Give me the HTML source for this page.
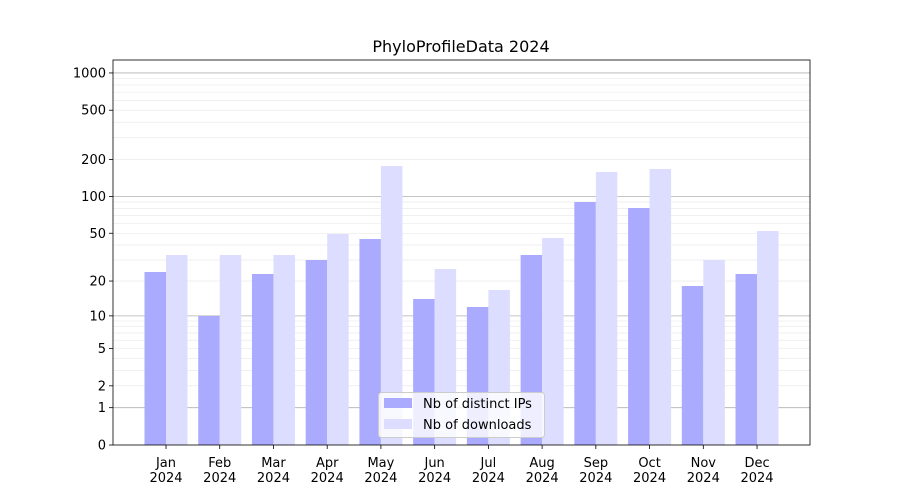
<!DOCTYPE html>
<html><head><meta charset="utf-8"><style>
body{margin:0;background:#fff;}
svg{display:block;font-family:"DejaVu Sans","Liberation Sans",sans-serif;}
</style></head><body>
<svg id="s" width="900" height="500" xmlns="http://www.w3.org/2000/svg"></svg>
<script>
const s=document.getElementById('s');
let h='<rect width="900" height="500" fill="#fff"/>';
const L=113,R=810,T=60,B=445,k=124;
const Y=v=>B-k*Math.log10(1+v);
// grid
for(let d of [1,10,100,1000]){
  for(let m=1;m<10;m++){
    const v=d*m; if(v>1300)break;
    const y=Y(v); if(y<T)break;
    h+=`<line x1="${L}" x2="${R}" y1="${y}" y2="${y}" stroke="${m==1?'#b0b0b0':'#e6e6e6'}" stroke-width="${m==1?0.8:0.6}"/>`;
  }
}
const months=['Jan','Feb','Mar','Apr','May','Jun','Jul','Aug','Sep','Oct','Nov','Dec'];
const ip=[272,316,274,260,239,299,307,255,202,208,286,274];
const dl=[255,255,255,234,166,269,290,238,172,169,260,231];
for(let i=0;i<12;i++){
  const c=166+i*53.73;
  h+=`<rect x="${c-21.5}" y="${ip[i]}" width="21.5" height="${B-ip[i]}" fill="#aaaaff"/>`;
  h+=`<rect x="${c}" y="${dl[i]}" width="21.5" height="${B-dl[i]}" fill="#ddddff"/>`;
  h+=`<line x1="${c}" x2="${c}" y1="${B}" y2="${B+4}" stroke="#000" stroke-width="0.8"/>`;
  h+=`<text x="${c}" y="467" font-size="13" text-anchor="middle">${months[i]}</text>`;
  h+=`<text x="${c}" y="482" font-size="13" text-anchor="middle">2024</text>`;
}
for(let v of [0,1,2,5,10,20,50,100,200,500,1000]){
  const y=Y(v);
  h+=`<line x1="${L-4}" x2="${L}" y1="${y}" y2="${y}" stroke="#000" stroke-width="0.8"/>`;
  h+=`<text x="${L-7}" y="${y+4.5}" font-size="13" text-anchor="end">${v}</text>`;
}
h+=`<rect x="${L}" y="${T}" width="${R-L}" height="${B-T}" fill="none" stroke="#000" stroke-width="0.8"/>`;
h+=`<text x="461" y="52" font-size="16" text-anchor="middle">PhyloProfileData 2024</text>`;
// legend
h+=`<rect x="378.5" y="392.5" width="166" height="45" rx="3" fill="#fff" fill-opacity="0.8" stroke="#ccc"/>`;
h+=`<rect x="384" y="398" width="28" height="10" fill="#aaaaff"/>`;
h+=`<text x="423" y="408" font-size="13">Nb of distinct IPs</text>`;
h+=`<rect x="384" y="419" width="28" height="10" fill="#ddddff"/>`;
h+=`<text x="423" y="429" font-size="13">Nb of downloads</text>`;
s.innerHTML=h;
</script>
</body></html>
